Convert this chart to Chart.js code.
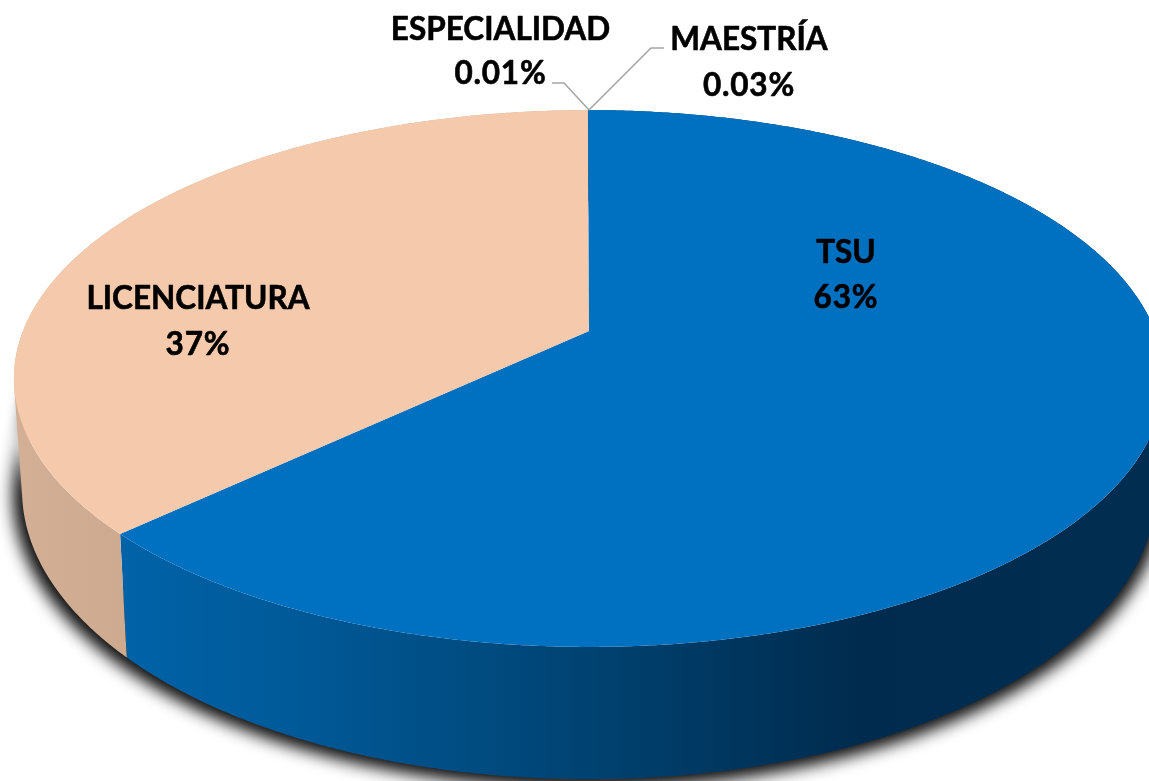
<!DOCTYPE html>
<html>
<head>
<meta charset="utf-8">
<style>html,body{margin:0;padding:0;background:#fff;overflow:hidden}canvas{display:block}</style>
<script src="https://cdn.jsdelivr.net/npm/chart.js@4/dist/chart.umd.min.js"></script>
</head>
<body>
<canvas id="c" width="1149" height="781"></canvas>
<script>
const categories = ['TSU', 'LICENCIATURA', 'ESPECIALIDAD', 'MAESTRÍA'];
const shares = [63, 37, 0.01, 0.03];
const topColors = ['#0070C0', '#F5CAAC', '#F5CAAC', '#0070C0'];

// Layout of the tilted disc (projective view of a circle)
const TOP = {x0: 589, y0: 331, a: 566, b: 260, k: 0.177};
const LOW = {x0: 589, y0: 439, a: 558, b: 280, k: 0.177};
const SHADOW_TOP = {x0: 589, y0: 385, a: 558, b: 262, k: 0.177};
const SHADOW_LOW = {x0: 588, y0: 441, a: 566, b: 284, k: 0.177};
const labelAt = [[846, 252.5, 297.5], [198, 298.5, 344.5], [500.5, 29.5, 73.5], [749, 39.5, 85.5]];
const leaders = [null, null, [[589,110],[564,83],[552,83]], [[589,110],[651,48],[664,48]]];

function project(d, ang) {
  const u = Math.cos(ang), v = Math.sin(ang), w = 1 - d.k * v;
  return [d.x0 + d.a * u / w, d.y0 + d.b * v / w];
}
function trace(ctx, d, a0, a1, move) {
  const n = Math.max(2, Math.ceil(Math.abs(a1 - a0) / 0.006));
  for (let i = 0; i <= n; i++) {
    const p = project(d, a0 + (a1 - a0) * i / n);
    if (i === 0 && move) ctx.moveTo(p[0], p[1]); else ctx.lineTo(p[0], p[1]);
  }
}
// Union of the quads swept between two rims, every quad wound the same way
function sweep(ctx, upper, lower, a0, a1) {
  const n = Math.max(2, Math.ceil(Math.abs(a1 - a0) / 0.006));
  for (let i = 0; i < n; i++) {
    const t0 = a0 + (a1 - a0) * i / n, t1 = a0 + (a1 - a0) * (i + 1) / n;
    const q = [project(upper, t0), project(upper, t1), project(lower, t1), project(lower, t0)];
    let area = 0;
    q.forEach((p, j) => { const r = q[(j + 1) % 4]; area += p[0] * r[1] - r[0] * p[1]; });
    if (area < 0) q.reverse();
    ctx.moveTo(q[0][0], q[0][1]);
    for (let j = 1; j < 4; j++) ctx.lineTo(q[j][0], q[j][1]);
    ctx.closePath();
  }
}
function sideFill(ctx, i) {
  const g = ctx.createLinearGradient(0, 0, 1149, 0);
  if (topColors[i] === '#0070C0') {
    g.addColorStop(0.09, '#0063A9');
    g.addColorStop(0.25, '#005A99');
    g.addColorStop(0.40, '#004D83');
    g.addColorStop(0.58, '#003C67');
    g.addColorStop(0.75, '#002B4E');
    g.addColorStop(1, '#002D50');
  } else {
    g.addColorStop(0, '#D3B096');
    g.addColorStop(0.12, '#CDAA8E');
  }
  return g;
}

const disc3d = {
  id: 'disc3d',
  beforeDatasetsDraw(chart) {
    const ctx = chart.ctx, arcs = chart.getDatasetMeta(0).data;
    // soft ground shadow only: the casting shape itself stays off the canvas
    ctx.save();
    ctx.shadowColor = 'rgba(0,0,0,0.95)';
    ctx.shadowBlur = 16;
    ctx.shadowOffsetX = 3000;
    ctx.shadowOffsetY = 2;
    ctx.fillStyle = '#000';
    ctx.translate(-3000, 0);
    ctx.beginPath();
    sweep(ctx, SHADOW_TOP, SHADOW_LOW, 0, Math.PI * 2);
    ctx.fill();
    ctx.restore();
    // side walls
    arcs.forEach((arc, i) => {
      const {startAngle: s, endAngle: e} = arc.getProps(['startAngle', 'endAngle'], true);
      ctx.beginPath();
      sweep(ctx, TOP, LOW, s, e);
      ctx.fillStyle = sideFill(ctx, i);
      ctx.fill();
    });
    // top faces
    arcs.forEach((arc, i) => {
      const {startAngle: s, endAngle: e} = arc.getProps(['startAngle', 'endAngle'], true);
      ctx.beginPath();
      ctx.moveTo(TOP.x0, TOP.y0);
      trace(ctx, TOP, s, e, false);
      ctx.closePath();
      ctx.fillStyle = topColors[i];
      ctx.fill();
    });
    return false;
  },
  afterDraw(chart) {
    const ctx = chart.ctx;
    ctx.save();
    ctx.strokeStyle = '#A6A6A6';
    ctx.lineWidth = 1.6;
    leaders.forEach(l => {
      if (!l) return;
      ctx.beginPath();
      l.forEach((p, j) => j ? ctx.lineTo(p[0], p[1]) : ctx.moveTo(p[0], p[1]));
      ctx.stroke();
    });
    ctx.fillStyle = '#000';
    ctx.strokeStyle = '#000';
    ctx.lineWidth = 0.6;
    ctx.lineJoin = 'round';
    ctx.font = 'bold 31.5px Lato, Carlito, sans-serif';
    ctx.textAlign = 'center';
    ctx.textBaseline = 'middle';
    const put = (txt, x, y) => { ctx.fillText(txt, x, y); ctx.strokeText(txt, x, y); };
    categories.forEach((name, i) => {
      const p = labelAt[i];
      ctx.letterSpacing = '0px';
      put(name, p[0], p[1]);
      ctx.letterSpacing = '0.8px';
      put(shares[i] + '%', p[0], p[2]);
    });
    ctx.restore();
  }
};

new Chart(document.getElementById('c'), {
  type: 'pie',
  data: {
    labels: categories,
    datasets: [{data: shares, backgroundColor: topColors, borderWidth: 0}]
  },
  options: {
    responsive: false,
    animation: false,
    events: [],
    plugins: {legend: {display: false}, tooltip: {enabled: false}}
  },
  plugins: [disc3d]
});
</script>
</body>
</html>
